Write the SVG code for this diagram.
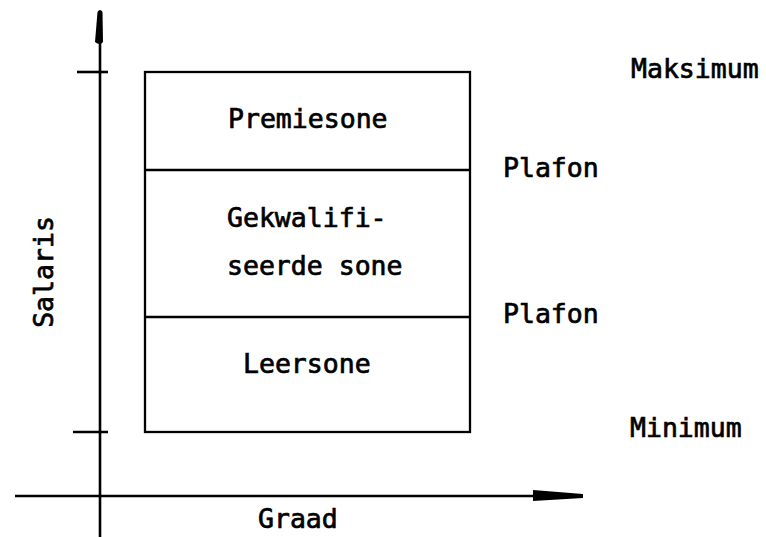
<svg xmlns="http://www.w3.org/2000/svg" width="766" height="537" viewBox="0 0 766 537">
<style>
text{font-family:"DejaVu Sans Mono","Liberation Mono",monospace;font-size:26.5px;fill:#000;stroke:#000;stroke-width:0.7}
.ln{stroke:#000;stroke-width:2.3;fill:none}
.ax{stroke:#000;stroke-width:2.6;fill:none}
</style>
<rect width="766" height="537" fill="#fff"/>
<g id="axes">
<line class="ax" x1="100" y1="30" x2="100" y2="537"/>
<path d="M97.5,12 Q100,8 102.5,12 L103,42 Q100,46 95,42 Z" fill="#000"/>
<line class="ax" x1="77" y1="72" x2="108" y2="72"/>
<line class="ax" x1="73" y1="432" x2="108" y2="432"/>
<line class="ax" x1="15" y1="496" x2="540" y2="496"/>
<path d="M533,490 L583,494 L583,498 L533,501 Z" fill="#000"/>
</g>
<g id="box">
<rect class="ln" x="145" y="72" width="325" height="360"/>
<line class="ln" x1="145" y1="170" x2="470" y2="170"/>
<line class="ln" x1="145" y1="317" x2="470" y2="317"/>
</g>
<g id="premiesone"><text x="228" y="128">Premiesone</text></g>
<g id="gekwalifiseerde"><text x="227" y="227">Gekwalifi-</text><text x="227" y="275">seerde sone</text></g>
<g id="leersone"><text x="243" y="373">Leersone</text></g>
<g id="labels">
<text x="631" y="78">Maksimum</text>
<text x="503" y="177">Plafon</text>
<text x="503" y="323">Plafon</text>
<text x="630" y="437">Minimum</text>
<text x="258" y="528">Graad</text>
<text transform="translate(53,272) rotate(-90)" text-anchor="middle">Salaris</text>
</g>
</svg>
